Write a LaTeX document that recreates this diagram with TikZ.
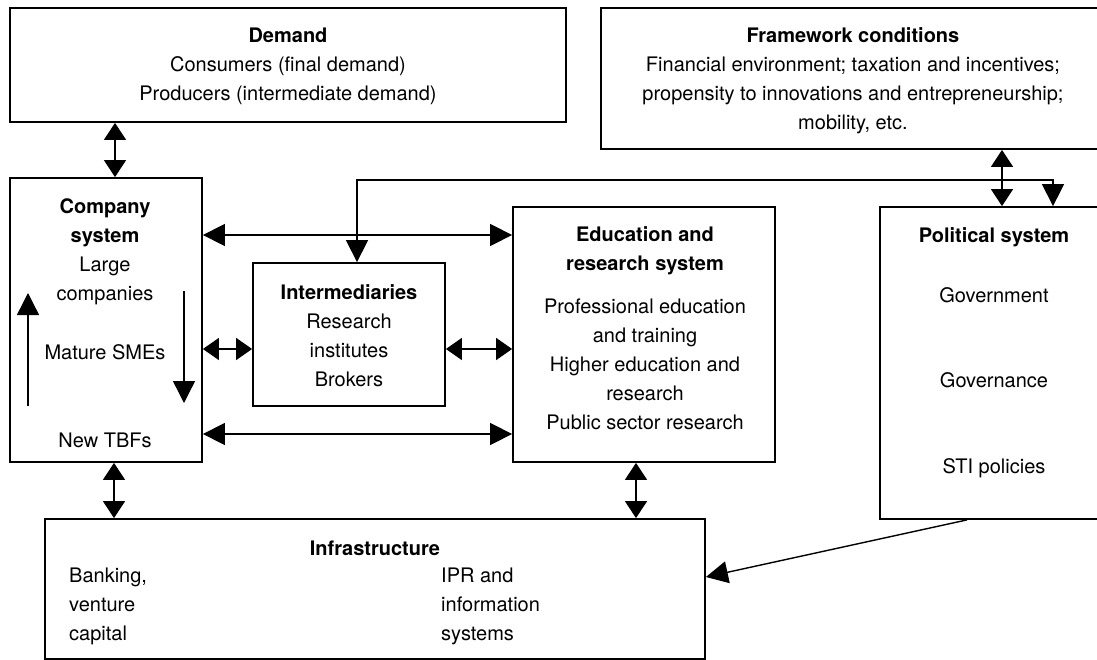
\documentclass[tikz,border=0pt]{standalone}
\usepackage{fontspec}
\setmainfont{TeX Gyre Heros}
\usetikzlibrary{arrows.meta}
\tikzset{
  box/.style={draw, line width=1.8pt, inner sep=0pt},
  txt/.style={align=center, inner sep=0pt, font=\fontsize{20}{29}\selectfont},
  dbl/.style={{Triangle[length=#1,width=22pt]}-{Triangle[length=#1,width=22pt]}, line width=1.4pt},
  dbl/.default=22pt,
  sgl/.style={-{Triangle[length=22pt,width=22pt]}, line width=1.4pt}
}
\begin{document}
\begin{tikzpicture}[x=1pt,y=-1pt]
  \useasboundingbox (0,0) rectangle (1097,660);
  % boxes
  \node[box, minimum width=556pt, minimum height=114pt] (demand) at (288,65) {};
  \node[box, minimum width=503pt, minimum height=141pt] (frame) at (852.5,78.5) {};
  \node[box, minimum width=192pt, minimum height=284pt] (company) at (106,320) {};
  \node[box, minimum width=192pt, minimum height=143pt] (inter) at (349,334.5) {};
  \node[box, minimum width=262pt, minimum height=255pt] (edu) at (644,334.5) {};
  \node[box, minimum width=224pt, minimum height=312pt] (polit) at (992,363) {};
  \node[box, minimum width=660pt, minimum height=140pt] (infra) at (375,589) {};
  % texts
  \node[txt] (demandtxt) at (288,66) {\textbf{Demand}\\Consumers (final demand)\\Producers (intermediate demand)};
  \node[txt] (frametxt) at (853,81) {\textbf{Framework conditions}\\Financial environment; taxation and incentives;\\propensity to innovations and entrepreneurship;\\mobility, etc.};
  \node[txt] (comptitle) at (105,252) {\textbf{Company}\\\textbf{system}\\Large\\companies};
  \node[txt] (mature) at (105,352) {Mature SMEs};
  \node[txt] (newtbf) at (105,440) {New TBFs};
  \node[txt] (intertxt) at (349,336) {\textbf{Intermediaries}\\Research\\institutes\\Brokers};
  \node[txt] (edutitle) at (645,251) {\textbf{Education and}\\\textbf{research system}};
  \node[txt] (edutxt) at (645,364) {Professional education\\and training\\Higher education and\\research\\Public sector research};
  \node[txt] (polititle) at (994,237) {\textbf{Political system}};
  \node[txt] (govt) at (994,295) {Government};
  \node[txt] (gov) at (994,380) {Governance};
  \node[txt] (sti) at (994,468) {STI policies};
  \node[txt] (infratitle) at (375,548) {\textbf{Infrastructure}};
  \node[txt, align=left, anchor=west] (bank) at (69,606) {Banking,\\venture\\capital};
  \node[txt, align=left, anchor=west] (ipr) at (441,606) {IPR and\\information\\systems};
  % arrows inside company system
  \coordinate (upfrom) at (28,406);
  \coordinate (upto) at (28,293);
  \coordinate (downfrom) at (184,291);
  \coordinate (downto) at (184,403);
  \draw[sgl] (upfrom) -- (upto);
  \draw[sgl] (downfrom) -- (downto);
  % links
  \draw[dbl=17pt] (demand.south -| 115,0) -- (company.north -| 115,0);
  \draw[dbl=17pt] (frame.south -| 1002,0) -- (polit.north -| 1002,0);
  \draw[dbl=22pt] (polit.north -| 1053,0) -- (1053,180) -| (inter.north -| 357,0);
  \draw[dbl] (company.east |- 0,235) -- (edu.west |- 0,235);
  \draw[dbl=16pt] (company.east |- 0,349) -- (inter.west |- 0,349);
  \draw[dbl=16pt] (inter.east |- 0,349) -- (edu.west |- 0,349);
  \draw[dbl] (company.east |- 0,434) -- (edu.west |- 0,434);
  \draw[dbl=17pt] (company.south -| 114,0) -- (infra.north -| 114,0);
  \draw[dbl=17pt] (edu.south -| 636,0) -- (infra.north -| 636,0);
  \draw[sgl] (polit.south -| 967,0) -- (infra.east |- 0,577);
\end{tikzpicture}
\end{document}
